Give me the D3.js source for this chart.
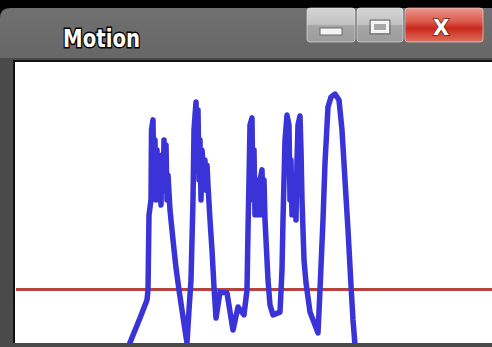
<!DOCTYPE html>
<html>
<head>
<meta charset="utf-8">
<script src="https://cdn.jsdelivr.net/npm/d3@7"></script>
<style>
  body { margin: 0; background: #000; }
  svg { display: block; }
</style>
</head>
<body>
<div id="chart"></div>
<script>
// motion trace: frame number, motion amount (0-100)
var frames = [112, 125, 132, 133, 134, 136, 136.5, 138, 139, 140, 141, 142, 143, 144, 146,
  147, 148, 149, 150, 151, 152, 153, 155, 158, 161, 164, 167, 170, 172, 174, 176, 177,
  178, 179, 181, 182, 183, 184, 185, 186, 187, 189, 190, 191, 192, 193, 195, 197, 199,
  201, 205, 212, 218, 223, 229, 232, 233, 234, 235, 237, 238, 239, 240, 241, 242, 243,
  244, 245, 247, 248, 249, 250, 251, 253, 255, 258, 265, 267, 268, 269, 270, 272, 274,
  275, 276, 277, 278, 279, 280, 281, 282, 283, 285, 286, 287, 288, 289, 291, 295, 303,
  305, 308, 310, 313, 316, 320, 324, 327, 330, 333, 336, 338, 340];
var motion = [-2.5, 8.9, 15.3, 18.9, 45.6, 50.9, 75.8, 79.4, 54.4, 72.2, 50.9, 68.7, 52.7,
  65.1, 49.1, 66.9, 54.4, 72.2, 56.2, 70.5, 50.9, 59.8, 47.3, 36.7, 26.7, 18.9, 11.7, 4.6,
  0, 11.7, 22.4, 36.7, 50.9, 75.8, 85.8, 72.2, 82.9, 58.0, 72.2, 50.9, 68.7, 59.8, 65.1,
  54.4, 63.3, 56.2, 43.8, 33.1, 19.9, 8.9, 18.1, 17.8, 4.6, 12.8, 10.0, 18.9, 40.2, 58.0,
  77.6, 80.1, 50.9, 68.7, 45.6, 58.0, 47.3, 54.4, 45.6, 58.0, 61.6, 45.6, 58.0, 43.8,
  36.7, 22.4, 13.5, 10.0, 11.0, 26.0, 43.8, 58.0, 72.2, 81.1, 77.6, 50.9, 65.1, 45.6,
  54.4, 45.6, 58.0, 43.8, 65.1, 77.6, 80.8, 68.7, 50.9, 40.2, 29.5, 21.4, 11.0, 3.6,
  18.9, 43.8, 64.0, 84.0, 87.5, 88.6, 86.5, 75.8, 58.0, 40.2, 20.6, 8.2, -0.7];
var threshold = 19;
var title = 'Motion';

var W = 492, H = 347;
var plot = { left: 15, top: 62, right: 492, bottom: 343 };

var svg = d3.select('#chart')
  .append('svg')
  .attr('width', W)
  .attr('height', H);

var defs = svg.append('defs');

function addGradient(id, stops) {
  var grad = defs.append('linearGradient')
    .attr('id', id)
    .attr('x1', 0).attr('y1', 0).attr('x2', 0).attr('y2', 1);
  stops.forEach(function(s) {
    grad.append('stop').attr('offset', s[0]).attr('stop-color', s[1]);
  });
}

addGradient('bar-grad', [['0%', '#707070'], ['40%', '#575757'], ['100%', '#3c3c3c']]);
addGradient('btn-grad', [['0%', '#d6d6d6'], ['48%', '#c2c2c2'], ['52%', '#a6a6a6'], ['100%', '#9c9c9c']]);
addGradient('close-grad', [['0%', '#eb968c'], ['40%', '#dc5a4a'], ['60%', '#c8281c'], ['100%', '#e0705e']]);

defs.append('clipPath')
  .attr('id', 'plot-clip')
  .append('rect')
  .attr('x', plot.left)
  .attr('y', plot.top)
  .attr('width', plot.right - plot.left)
  .attr('height', plot.bottom - plot.top);

// window frame
svg.append('path')
  .attr('d', 'M0,' + H + ' L0,18 Q0,8 10,8 L' + W + ',8 L' + W + ',' + H + ' Z')
  .attr('fill', 'url(#bar-grad)');
svg.append('rect')
  .attr('x', 0).attr('y', 58)
  .attr('width', W).attr('height', H - 58)
  .attr('fill', '#4a4a4a');

// title bar buttons
var buttons = [
  { x: 307, w: 48, fill: 'url(#btn-grad)', kind: 'min' },
  { x: 357, w: 46, fill: 'url(#btn-grad)', kind: 'max' },
  { x: 405, w: 78, fill: 'url(#close-grad)', kind: 'close' }
];
var btn = svg.selectAll('.btn')
  .data(buttons).enter()
  .append('g')
  .attr('class', 'btn')
  .attr('transform', function(d) { return 'translate(' + d.x + ',8)'; });
btn.append('rect')
  .attr('width', function(d) { return d.w; })
  .attr('height', 34)
  .attr('rx', 3)
  .attr('fill', function(d) { return d.fill; })
  .attr('stroke', '#e8e8e8')
  .attr('stroke-opacity', 0.6)
  .attr('stroke-width', 1);

btn.filter(function(d) { return d.kind == 'min'; })
  .append('rect')
  .attr('x', 13).attr('y', 20).attr('width', 22).attr('height', 7)
  .attr('fill', '#f4f4f4').attr('stroke', '#6a6a6a').attr('stroke-width', 1);
var maxIcon = btn.filter(function(d) { return d.kind == 'max'; });
maxIcon.append('rect')
  .attr('x', 13).attr('y', 12).attr('width', 20).attr('height', 14)
  .attr('fill', 'none').attr('stroke', '#6a6a6a').attr('stroke-width', 1);
maxIcon.append('rect')
  .attr('x', 15.5).attr('y', 14.5).attr('width', 15).attr('height', 9)
  .attr('fill', '#a8a8a8').attr('stroke', '#f4f4f4').attr('stroke-width', 3);
btn.filter(function(d) { return d.kind == 'close'; })
  .append('text')
  .attr('x', 36).attr('y', 27)
  .attr('text-anchor', 'middle')
  .attr('font-family', 'DejaVu Sans, sans-serif')
  .attr('font-weight', 'bold')
  .attr('font-size', '21px')
  .attr('fill', '#fff')
  .attr('stroke', '#6a2a22')
  .attr('stroke-width', 1.5)
  .attr('paint-order', 'stroke')
  .text('X');

svg.append('text')
  .attr('x', 63)
  .attr('y', 47)
  .attr('font-family', 'DejaVu Sans, sans-serif')
  .attr('font-weight', 'bold')
  .attr('font-size', '25px')
  .attr('textLength', 77)
  .attr('lengthAdjust', 'spacingAndGlyphs')
  .attr('fill', '#fff')
  .attr('stroke', '#000')
  .attr('stroke-width', 3)
  .attr('paint-order', 'stroke')
  .text(title);

// plot area
svg.append('rect')
  .attr('x', plot.left - 2)
  .attr('y', plot.top - 2)
  .attr('width', plot.right - plot.left + 2)
  .attr('height', plot.bottom - plot.top + 2)
  .attr('fill', '#111');
svg.append('rect')
  .attr('x', plot.left)
  .attr('y', plot.top)
  .attr('width', plot.right - plot.left)
  .attr('height', plot.bottom - plot.top)
  .attr('fill', '#fff');

var xScale = d3.scaleLinear().domain([0, 477]).range([plot.left, plot.right]),
  yScale = d3.scaleLinear().domain([0, 100]).range([plot.bottom, plot.top]);

var g = svg.append('g')
  .attr('clip-path', 'url(#plot-clip)');

g.append('line')
  .attr('x1', plot.left + 1)
  .attr('x2', plot.right)
  .attr('y1', yScale(threshold))
  .attr('y2', yScale(threshold))
  .attr('stroke', '#b5443c')
  .attr('stroke-width', 3);

var line = d3.line()
  .x(function(d) { return xScale(d[0]); })
  .y(function(d) { return yScale(d[1]); });

g.append('path')
  .datum(d3.zip(frames, motion))
  .attr('d', line)
  .attr('fill', 'none')
  .attr('stroke', '#3a34d8')
  .attr('stroke-width', 5.5)
  .attr('stroke-linejoin', 'round');
</script>
</body>
</html>
